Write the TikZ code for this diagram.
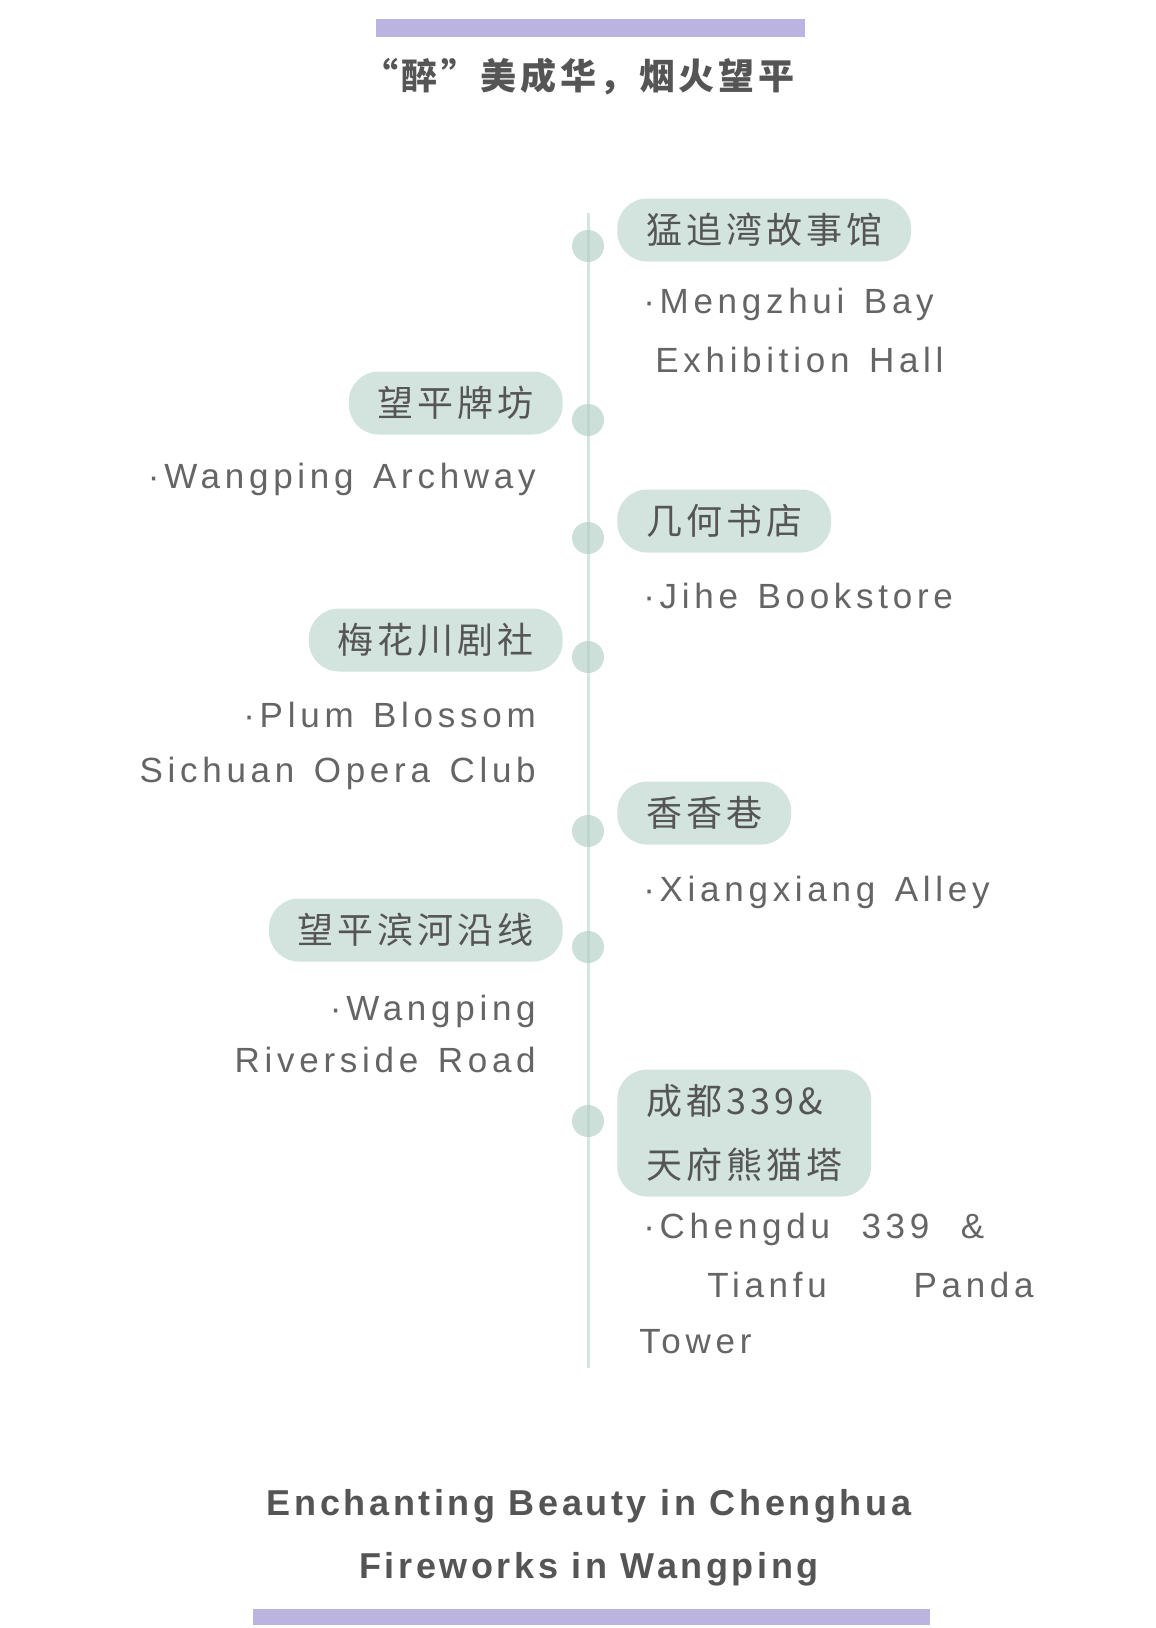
\documentclass[tikz,border=0pt]{standalone}
\usepackage{fontspec}
\newfontfamily\cjk{Noto Sans CJK SC}[LetterSpace=11]
\newfontfamily\cjktitle{Noto Sans CJK SC}[LetterSpace=10]
\newfontfamily\enfont{Liberation Sans}[LetterSpace=13.5, WordSpace=1.35]
\newfontfamily\footfont{Liberation Sans}[LetterSpace=10]

\definecolor{barcol}{HTML}{BBB3E0}
\definecolor{pillcol}{HTML}{D3E3DE}
\definecolor{dotcol}{HTML}{CCDFD8}
\definecolor{linecol}{HTML}{ADCFC4}
\definecolor{txtcol}{HTML}{555555}
\definecolor{engcol}{HTML}{656565}

\tikzset{
  pill/.style={fill=pillcol, rounded corners=22.5pt, inner xsep=21.75pt, inner ysep=0pt,
    minimum height=47.25pt, text=txtcol, font=\cjk\fontsize{27pt}{48pt}\selectfont},
  place/.style={text=engcol, inner sep=0pt, font=\enfont\fontsize{26.25pt}{30pt}\selectfont},
  foot/.style={text=txtcol, inner sep=0pt, font=\footfont\bfseries\fontsize{27pt}{30pt}\selectfont},
  stopdot/.style={circle, fill=dotcol, minimum size=24pt, inner sep=0pt},
}

\begin{document}
\begin{tikzpicture}[x=0.75pt,y=-0.75pt]
  \path[use as bounding box, fill=white] (0,0) rectangle (1156,1628);
  % bars and title
  \fill[barcol] (376,19) rectangle (805,37);
  \fill[barcol] (253,1609) rectangle (930,1625);
  \node[text=txtcol, font=\cjktitle\bfseries\fontsize{27pt}{30pt}\selectfont] (title) at (578,77) {“醉”美成华，烟火望平};

  % timeline
  \coordinate (top) at (588,213);
  \coordinate (bottom) at (588,1368);
  \foreach \y/\n in {246/a,420/b,538/c,657/d,831/e,947/f,1121/g}
    \node[stopdot] (dot\n) at (588,\y) {};
  \draw[linecol, opacity=.5, line width=2.25pt] (top) -- (bottom);

  % right side
  \node[pill, anchor=west] (meng) at (617,230) {猛追湾故事馆};
  \node[place, anchor=base west] (mengA) at (643,313) {·Mengzhui Bay};
  \node[place, anchor=base west] (mengB) at (655,372) {Exhibition Hall};
  \node[pill, anchor=west] (jihe) at (617,521) {几何书店};
  \node[place, anchor=base west] (jiheA) at (643,608) {·Jihe Bookstore};
  \node[pill, anchor=west] (xiang) at (617,813) {香香巷};
  \node[place, anchor=base west] (xiangA) at (643,901) {·Xiangxiang Alley};
  \node[pill, anchor=west, align=left, minimum height=95.25pt] (panda) at (617,1133) {成都339\&\\天府熊猫塔};
  \node[place, anchor=base west] (pandaA) at (643,1238) {·Chengdu \hspace{9pt}339 \hspace{9pt}\&};
  \node[place, anchor=base west] (pandaB) at (707,1297) {Tianfu\hspace{65pt}Panda};
  \node[place, anchor=base west] (pandaC) at (639,1353) {Tower};

  % left side
  \node[pill, anchor=east] (pai) at (563,403) {望平牌坊};
  \node[place, anchor=base east] (paiA) at (536,488) {·Wangping Archway};
  \node[pill, anchor=east] (mei) at (563,640) {梅花川剧社};
  \node[place, anchor=base east] (meiA) at (536,727) {·Plum Blossom};
  \node[place, anchor=base east] (meiB) at (536,782) {Sichuan Opera Club};
  \node[pill, anchor=east] (bin) at (563,930) {望平滨河沿线};
  \node[place, anchor=base east] (binA) at (536,1020) {·Wangping};
  \node[place, anchor=base east] (binB) at (536,1072) {Riverside Road};

  % footer
  \node[foot, anchor=base] (endA) at (589,1515) {Enchanting Beauty in Chenghua};
  \node[foot, anchor=base] (endB) at (589,1578) {Fireworks in Wangping};
\end{tikzpicture}
\end{document}
